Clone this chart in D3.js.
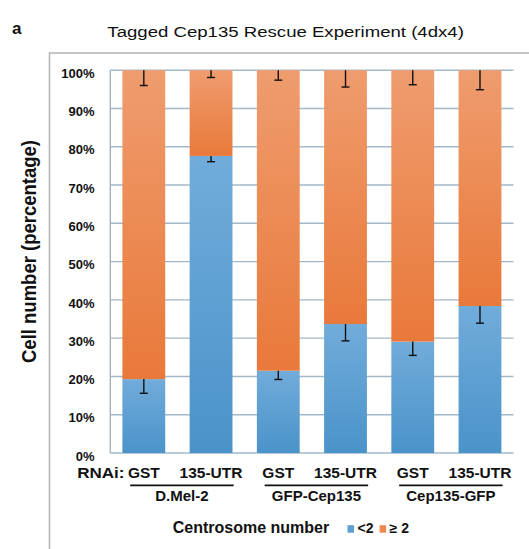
<!DOCTYPE html>
<html>
<head>
<meta charset="utf-8">
<script src="https://cdn.jsdelivr.net/npm/d3@7"></script>
<style>
  html, body { margin: 0; padding: 0; background: #fff; }
  svg { display: block; }
  text { font-family: "Liberation Sans", Arial, Helvetica, sans-serif; fill: #111; }
</style>
</head>
<body>
<svg id="chart" width="529" height="549"></svg>
<script>
// Sample order along the x axis (RNAi treatment) and the cell line each pair belongs to
const categories = ["GST", "135-UTR", "GST", "135-UTR", "GST", "135-UTR"];
const groups = ["D.Mel-2", "GFP-Cep135", "Cep135-GFP"];

// Percentage of cells with <2 centrosomes and its error
const below2 = [19.3, 77.6, 21.5, 33.7, 29.1, 38.4];
const below2Err = [3.7, 1.5, 2.3, 4.4, 3.6, 4.5];

// Percentage of cells with >=2 centrosomes and its error
const atLeast2 = [80.7, 22.4, 78.5, 66.3, 70.9, 61.6];
const atLeast2Err = [4.0, 1.9, 2.6, 4.4, 3.8, 5.1];

const yTicks = [0, 10, 20, 30, 40, 50, 60, 70, 80, 90, 100];
const seriesNames = ["<2", "\u2265 2"];

const svg = d3.select("#chart");

const plot = { left: 110.3, right: 513.5, top: 70.2, bottom: 453 };

const x = d3.scaleBand()
  .domain(d3.range(categories.length))
  .range([plot.left, plot.right])
  .paddingInner(0.363)
  .paddingOuter(0.18);

const y = d3.scaleLinear().domain([0, 100]).range([plot.bottom, plot.top]);

// Gradients for the two series
const defs = svg.append("defs");
function addGradient(id, top, bottom) {
  const g = defs.append("linearGradient").attr("id", id)
    .attr("x1", 0).attr("y1", 0).attr("x2", 0).attr("y2", 1);
  g.append("stop").attr("offset", "0%").attr("stop-color", top);
  g.append("stop").attr("offset", "100%").attr("stop-color", bottom);
}
addGradient("gBlue", "#71acdb", "#4a93c9");
addGradient("gOrange", "#ef9c6e", "#e9793a");
const fills = ["url(#gBlue)", "url(#gOrange)"];
const swatch = ["#5b9fd3", "#ef8a4c"];

// Outer frame (top and left edges)
svg.append("path")
  .attr("d", "M49.5,549 L49.5,53 L529,53")
  .attr("fill", "none").attr("stroke", "#b4b4b4").attr("stroke-width", 1.5);

// Panel letter and title
svg.append("text").attr("x", 12).attr("y", 33.5)
  .attr("font-size", 17).attr("font-weight", "bold").text("a");
svg.append("text")
  .attr("transform", "translate(285.6,36.5) scale(1.2,1)")
  .attr("text-anchor", "middle").attr("font-size", 15.5)
  .text("Tagged Cep135 Rescue Experiment (4dx4)");

// Horizontal gridlines
svg.append("g").selectAll("line").data(yTicks).join("line")
  .attr("x1", plot.left).attr("x2", plot.right)
  .attr("y1", d => y(d)).attr("y2", d => y(d))
  .attr("stroke", "#a3b8c9").attr("stroke-width", 1.4);

// Left axis line
svg.append("line")
  .attr("x1", plot.left).attr("x2", plot.left)
  .attr("y1", y(100)).attr("y2", y(0))
  .attr("stroke", "#a3b2bf").attr("stroke-width", 1.4);

// Y tick labels
const yAxis = d3.axisLeft(y).tickValues(yTicks).tickFormat(d => d + "%").tickSize(0).tickPadding(0);
const yg = svg.append("g").attr("transform", "translate(94.5,0)").call(yAxis);
yg.select(".domain").remove();
yg.selectAll("text")
  .attr("font-size", 13).attr("font-weight", "bold")
  .attr("font-family", "Liberation Sans, Arial, sans-serif")
  .attr("fill", "#111").attr("dy", "0.55em");

// Y axis title
svg.append("text")
  .attr("transform", "translate(36,251.5) scale(1.1,1) rotate(-90)")
  .attr("text-anchor", "middle").attr("font-size", 18.5).attr("font-weight", "bold")
  .text("Cell number (percentage)");

// Stacked bars
const stacks = categories.map((c, i) => {
  const b = below2[i];
  return [
    { i, s: 0, y0: 0, y1: b, err: below2Err[i] },
    { i, s: 1, y0: b, y1: b + atLeast2[i], err: atLeast2Err[i] }
  ];
}).flat();

svg.append("g").selectAll("rect").data(stacks).join("rect")
  .attr("x", d => x(d.i))
  .attr("width", x.bandwidth())
  .attr("y", d => y(d.y1))
  .attr("height", d => y(d.y0) - y(d.y1))
  .attr("fill", d => fills[d.s]);

// Error bars (downward from each segment top)
const eg = svg.append("g").attr("stroke", "#111").attr("stroke-width", 1.4);
stacks.forEach(d => {
  const cx = x(d.i) + x.bandwidth() / 2;
  eg.append("line").attr("x1", cx).attr("x2", cx)
    .attr("y1", y(d.y1)).attr("y2", y(d.y1 - d.err));
  eg.append("line").attr("x1", cx - 4).attr("x2", cx + 4)
    .attr("y1", y(d.y1 - d.err)).attr("y2", y(d.y1 - d.err));
});

// Category labels
svg.append("text").attr("transform", "translate(124.5,478.3) scale(1.1,1)").attr("text-anchor", "end")
  .attr("font-size", 15.5).attr("font-weight", "bold").text("RNAi:");
svg.append("g").selectAll("text").data(categories).join("text")
  .attr("x", (d, i) => x(i) + x.bandwidth() / 2)
  .attr("y", 478.3).attr("text-anchor", "middle")
  .attr("font-size", 15.5).attr("font-weight", "bold")
  .text(d => d);

// Cell line groups with underlines
const step = x.step();
groups.forEach((g, k) => {
  const gx0 = x(2 * k) - (step - x.bandwidth()) / 2;
  const gx1 = x(2 * k + 1) + x.bandwidth() + (step - x.bandwidth()) / 2;
  svg.append("line")
    .attr("x1", gx0 + 20).attr("x2", gx1 - 11)
    .attr("y1", 485.4).attr("y2", 485.4)
    .attr("stroke", "#111").attr("stroke-width", 1.8);
  svg.append("text")
    .attr("x", (gx0 + 20 + gx1 - 11) / 2).attr("y", 501.2)
    .attr("text-anchor", "middle").attr("font-size", 15).attr("font-weight", "bold")
    .text(g);
});

// Legend
svg.append("text").attr("x", 172.7).attr("y", 533.3)
  .attr("font-size", 16).attr("font-weight", "bold").text("Centrosome number");
const legendX = [347.5, 379.6];
seriesNames.forEach((n, s) => {
  svg.append("rect").attr("x", legendX[s]).attr("y", 525.2)
    .attr("width", 6.5).attr("height", 7.5).attr("fill", swatch[s]);
  svg.append("text").attr("x", legendX[s] + 10).attr("y", 533.3)
    .attr("font-size", 14).attr("font-weight", "bold").text(n);
});
</script>
</body>
</html>
